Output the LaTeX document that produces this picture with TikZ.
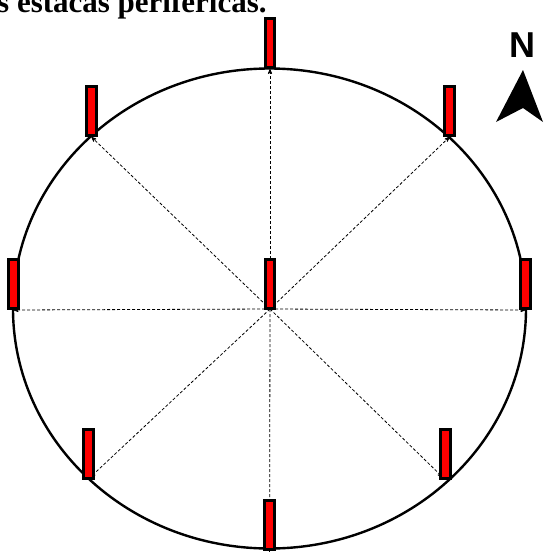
\documentclass[tikz,border=0pt]{standalone}
\usepackage{fontspec}
\setmainfont{Liberation Serif}
\newfontfamily\compassfont{Liberation Sans}
\usetikzlibrary{arrows,positioning}

\tikzset{
  stake/.style={draw, line width=2.6pt, fill=red, minimum width=9.5pt,
    minimum height=49pt, inner sep=0pt, anchor=south},
  sightline/.style={->, >=stealth', densely dashed, line width=0.8pt},
}

\begin{document}
\begin{tikzpicture}[x=1pt,y=-1pt]

\useasboundingbox (0,0) rectangle (544,552);
\begin{scope}
\clip (0,0) rectangle (544,552);

% Title (cut at the top)
\node[anchor=base west, inner sep=0pt] (title) at (-3,12)
  {\fontsize{31}{36}\selectfont\bfseries s estacas periféricas.};

% Plot outline
\draw[line width=2.4pt] (269.5,308.5) ellipse [x radius=256.5pt, y radius=240pt];

% Stake positions
\coordinate (o) at (270,309);
\coordinate (pn) at (270,69);
\coordinate (pne) at (449.5,137);
\coordinate (pe) at (525.5,310);
\coordinate (pse) at (445.5,480);
\coordinate (ps) at (269.5,551);
\coordinate (psw) at (88.5,480);
\coordinate (pw) at (13.5,310);
\coordinate (pnw) at (91.5,137);

% Sight lines from the centre
\draw[sightline] (o) -- (pn);
\draw[sightline] (o) -- (pne);
\draw[sightline] (o) -- (pe);
\draw[sightline] (o) -- ([xshift=-3pt,yshift=3pt]pse);
\draw[sightline] (o) -- ([yshift=-50pt]ps);
\draw[sightline] (o) -- ([xshift=2pt,yshift=3pt]psw);
\draw[sightline] (o) -- (pw);
\draw[sightline] (o) -- (pnw);

% Stakes
\node[stake] (ctr) at ([yshift=-1pt]o) {};
\node[stake] (n) at (pn) {};
\node[stake] (ne) at (pne) {};
\node[stake] (e) at (pe) {};
\node[stake] (se) at (pse) {};
\node[stake] (s) at (ps) {};
\node[stake] (sw) at (psw) {};
\node[stake] (w) at (pw) {};
\node[stake] (nw) at (pnw) {};

% North arrow
\node[inner sep=0pt] (north) at (522.5,45)
  {\compassfont\fontsize{36}{40}\selectfont\bfseries N};
\fill (523,70) -- (543,122) -- (523,108) -- (496,122) -- cycle;

\end{scope}
\end{tikzpicture}
\end{document}
